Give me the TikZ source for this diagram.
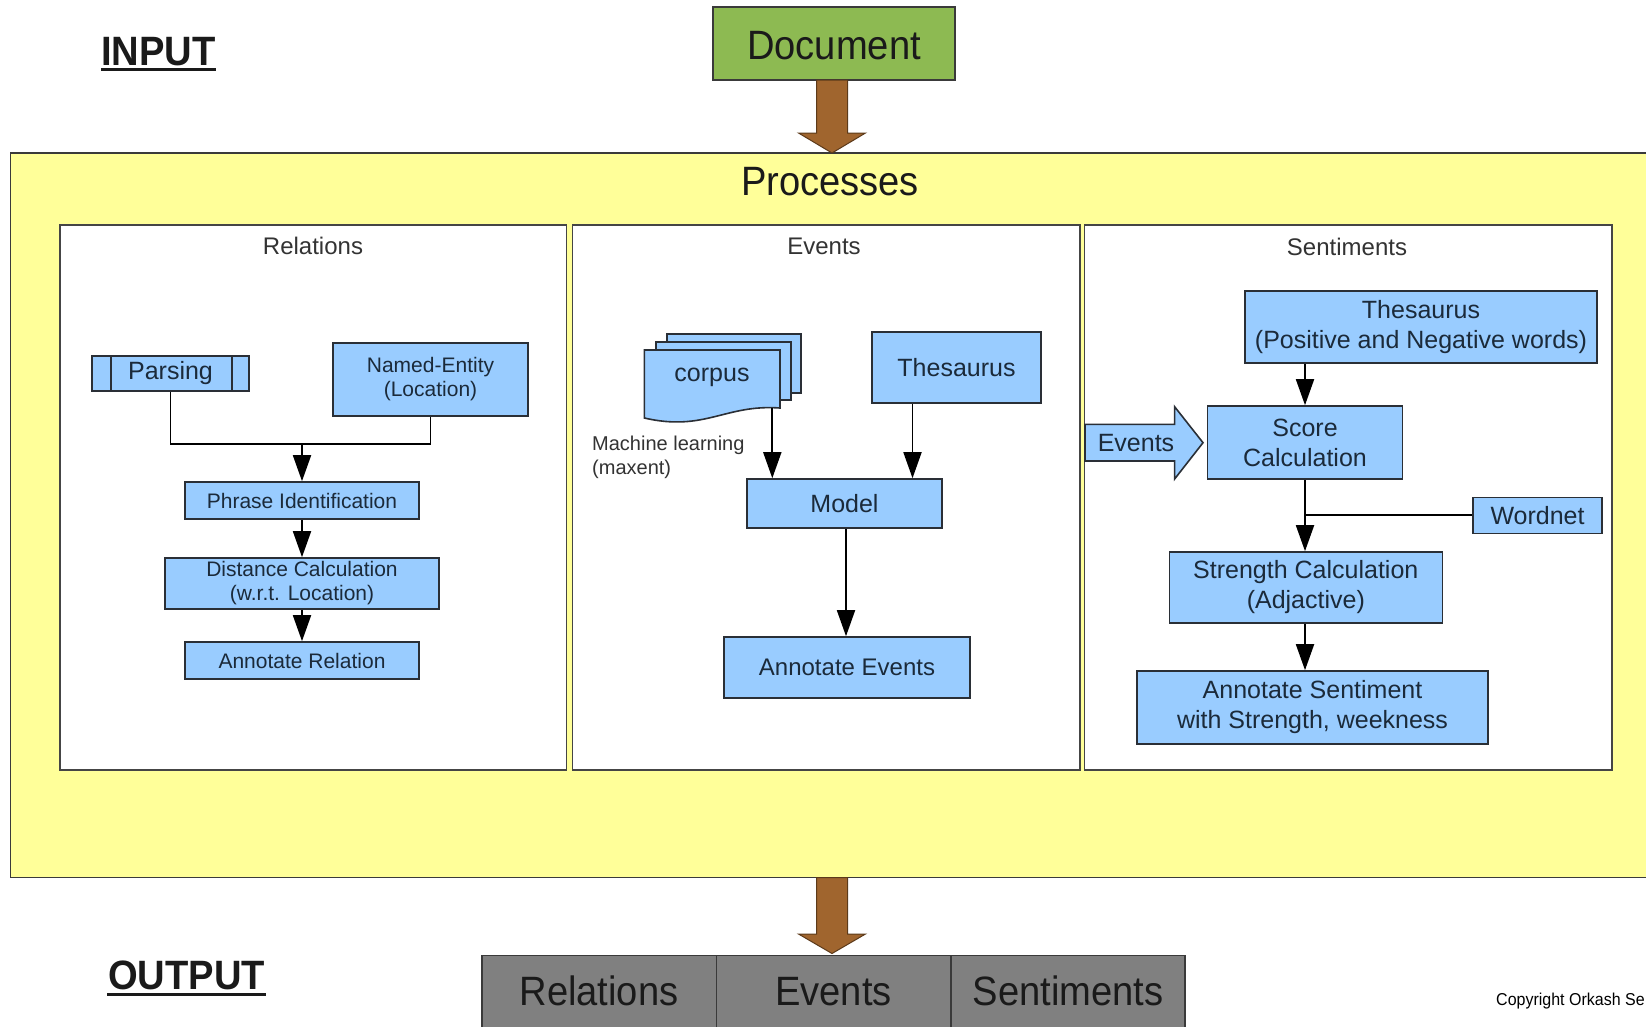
\documentclass[tikz,border=0pt]{standalone}
\usepackage{fontspec}
\setmainfont{Liberation Sans}
\newfontfamily\narrowsans[FakeStretch=0.93]{Liberation Sans}
\usetikzlibrary{arrows.meta}

\definecolor{boxblue}{HTML}{99CCFF}
\definecolor{boxline}{HTML}{2A2F36}
\definecolor{boxtext}{HTML}{1B2A3A}
\definecolor{procyellow}{HTML}{FFFF99}
\definecolor{procline}{HTML}{3A3A3A}
\definecolor{panelline}{HTML}{454545}
\definecolor{docgreen}{HTML}{8DBA52}
\definecolor{flowbrown}{HTML}{A0652E}
\definecolor{flowedge}{HTML}{5C3A1A}
\definecolor{outgray}{HTML}{808080}
\definecolor{darktext}{HTML}{1A1A1A}
\definecolor{titletext}{HTML}{333333}

\newcommand\fs[2]{\fontsize{#1}{#2}\selectfont}

\begin{document}
\begin{tikzpicture}[x=1pt,y=-1pt,
  blk/.style={draw=boxline,line width=1.6pt,fill=boxblue,text=boxtext,inner sep=0pt,align=center},
  panel/.style={draw=panelline,line width=1.4pt,fill=white},
  paneltitle/.style={anchor=base,text=titletext,font=\fs{24}{28},inner sep=0pt},
  bigtext/.style={anchor=base,inner sep=0pt,font=\narrowsans\fs{41}{46}},
  conn/.style={draw=black,line width=1.8pt},
  arr/.style={conn,-{Triangle[width=18pt,length=26pt]}},
  bigarrow/.style={fill=flowbrown,draw=flowedge,line width=1pt,line join=miter},
  ]
\useasboundingbox (0,0) rectangle (1646,1026);
\fill[white] (0,0) rectangle (1646,1026);
\clip (0,0) rectangle (1646,1026);

% ---------- input ----------
\node[bigtext,font=\narrowsans\bfseries\fs{41}{46},text=darktext] (input) at (158.5,65) {INPUT};
\draw[line width=3pt,darktext] (101,69.5) -- (216,69.5);

\node[draw=procline,line width=1.6pt,fill=docgreen,minimum width=242pt,minimum height=73pt,inner sep=0pt] (doc) at (834,43.5) {};
\node[bigtext,text=darktext] (doclabel) at (834,59) {Document};

% ---------- processes frame ----------
\draw[draw=procline,line width=1.8pt,fill=procyellow] (10.5,153) rectangle (1670,877.5);
\coordinate (procin) at (832,153);
\coordinate (procout) at (832,877.5);
\node[bigtext,text=darktext] (proc) at (830,195) {Processes};

% brown flow arrows
\filldraw[bigarrow] (832,80) ++(-15.5,0) -- ++(0,53) -- ++(-18,0) -- (procin) -- ++(33.5,-20) -- ++(-18,0) -- ++(0,-53) -- cycle;

% ---------- panels ----------
\draw[panel] (60,225) rectangle (566.7,770);
\draw[panel] (572.7,225) rectangle (1080,770);
\draw[panel] (1084.3,225) rectangle (1612,770);
\node[paneltitle] (reltitle) at (313,254) {Relations};
\node[paneltitle] (evtitle) at (824,254) {Events};
\node[paneltitle] (senttitle) at (1347,255) {Sentiments};

% ---------- relations ----------
\node[blk,minimum width=157pt,minimum height=35pt,font=\fs{25}{30}] (parsing) at (170.5,373.5) {Parsing};
\draw[boxline,line width=1.6pt] ([xshift=20pt]parsing.north west) -- ([xshift=20pt]parsing.south west);
\draw[boxline,line width=1.6pt] ([xshift=-18pt]parsing.north east) -- ([xshift=-18pt]parsing.south east);
\node[blk,minimum width=195pt,minimum height=73pt,font=\fs{21}{24}] (ne) at (430.5,379.5) {Named-Entity\\(Location)};
\node[blk,minimum width=234pt,minimum height=37pt,font=\fs{21}{24}] (phrase) at (302,500.5) {Phrase Identification};
\node[blk,minimum width=274pt,minimum height=51pt,font=\fs{21}{24}] (dist) at (302,583.5) {Distance Calculation\\(w.r.t. Location)};
\node[blk,minimum width=234pt,minimum height=37pt,font=\fs{21}{24}] (annrel) at (302,660.5) {Annotate Relation};

\coordinate (rj) at (302,444);
\draw[conn] (parsing.south) |- (rj) -| (ne.south);
\draw[arr] (rj) -- (phrase.north);
\draw[arr] (phrase.south) -- (dist.north);
\draw[arr] (dist.south) -- (annrel.north);

% ---------- events ----------
% stacked corpus sheets
\filldraw[draw=boxline,line width=1.6pt,fill=boxblue] (667,334) rectangle (801,392.7);
\filldraw[draw=boxline,line width=1.6pt,fill=boxblue] (656,341.7) rectangle (790.7,400);
\filldraw[draw=boxline,line width=1.6pt,fill=boxblue]
  (644.3,350) -- (780,350) -- (780,408)
  .. controls (725,404) and (705,432) .. (644.3,418) -- cycle;
\node[text=boxtext,font=\fs{25}{30},inner sep=0pt] (corpus) at (712,377) {corpus};
\coordinate (cfoot) at (772.3,408);
\node[anchor=north west,align=left,inner sep=0pt,text=titletext,font=\fs{20}{24}] (ml) at (592,436) {Machine learning\\(maxent)};

\node[blk,minimum width=169pt,minimum height=71pt,font=\fs{25}{30}] (thes) at (956.5,367.5) {Thesaurus};
\node[blk,minimum width=195pt,minimum height=49pt,font=\fs{25}{30}] (model) at (844.5,503.5) {Model};
\node[blk,minimum width=246pt,minimum height=61pt,font=\fs{24}{28}] (annev) at (847,667.5) {Annotate Events};

\draw[arr] (cfoot) -- (cfoot |- model.north);
\draw[arr] ([xshift=-44pt]thes.south) -- ([xshift=-44pt]thes.south |- model.north);
\draw[arr] ([xshift=1.5pt]model.south) -- ([xshift=1.5pt]model.south |- annev.north);

% ---------- sentiments ----------
\node[blk,minimum width=352pt,minimum height=72pt,font=\fs{25}{29.5}] (sthes) at (1421,327) {Thesaurus\\(Positive and Negative words)};
\node[blk,minimum width=195pt,minimum height=73pt,font=\fs{25}{30}] (score) at (1305,442.5) {Score\\Calculation};
\node[blk,minimum width=129pt,minimum height=36pt,font=\fs{25}{30}] (wordnet) at (1537.5,515.3) {Wordnet};
\node[blk,minimum width=273pt,minimum height=71pt,font=\fs{25}{30}] (strength) at (1305.8,587.5) {Strength Calculation\\(Adjactive)};
\node[blk,minimum width=351pt,minimum height=73pt,font=\fs{25}{30}] (annsent) at (1312.5,707.5) {Annotate Sentiment\\with Strength, weekness};

% incoming events block arrow
\filldraw[draw=boxline,line width=1.6pt,fill=boxblue]
  (1085,424.3) -- (1174.6,424.3) -- (1174.6,406.7) -- (1203,442.7)
  -- (1174.6,479) -- (1174.6,461) -- (1085,461) -- cycle;
\node[text=boxtext,font=\fs{25}{30},inner sep=0pt] (evin) at (1136,442.7) {Events};

\draw[arr] (sthes.south -| score.north) -- (score.north);
\draw[arr] (score.south) -- (score.south |- strength.north);
\draw[conn] (wordnet.west) -- (wordnet.west -| score.south);
\draw[arr] (score.south |- strength.south) -- (score.south |- annsent.north);

% ---------- output ----------
\filldraw[bigarrow] (procout) ++(-15.5,0) -- ++(0,56.5) -- ++(-18,0) -- (832,953.5) -- ++(33.5,-19.5) -- ++(-18,0) -- ++(0,-56.5) -- cycle;

\node[bigtext,font=\narrowsans\bfseries\fs{41}{46},text=darktext] (output) at (186.5,989) {OUTPUT};
\draw[line width=3pt,darktext] (107,994.5) -- (266,994.5);

\filldraw[draw=procline,line width=1.6pt,fill=outgray] (482,955.5) rectangle (716.5,1040);
\filldraw[draw=procline,line width=1.6pt,fill=outgray] (716.5,955.5) rectangle (951,1040);
\filldraw[draw=procline,line width=1.6pt,fill=outgray] (951,955.5) rectangle (1185,1040);
\node[bigtext,text=darktext] (outrel) at (599,1005) {Relations};
\node[bigtext,text=darktext] (outev) at (833.5,1005) {Events};
\node[bigtext,text=darktext] (outsent) at (1068,1005) {Sentiments};

\node[anchor=base west,inner sep=0pt,text=black,font=\narrowsans\fs{17.2}{20}] (copy) at (1496,1005) {Copyright Orkash Se};
\end{tikzpicture}
\end{document}
